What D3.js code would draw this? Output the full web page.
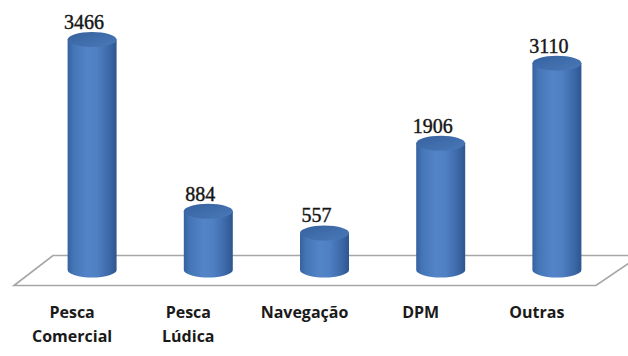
<!DOCTYPE html>
<html>
<head>
<meta charset="utf-8">
<script src="https://cdn.jsdelivr.net/npm/d3@7"></script>
<style>
  html, body { margin: 0; padding: 0; background: #ffffff; }
  svg { display: block; }
</style>
</head>
<body>
<svg id="chart" width="628" height="356"></svg>
<script>
// Occurrences by category
const categories = ["Pesca\nComercial", "Pesca\nLúdica", "Navegação", "DPM", "Outras"];
const values = [3466, 884, 557, 1906, 3110];

const W = 628, H = 356;
const svg = d3.select("#chart");

const x = d3.scalePoint().domain(categories).range([34, 615]).padding(0.5);
const y = d3.scaleLinear().domain([0, 4000]).range([270, 4]);

const rx = 24.5, ry = 7.5;

const defs = svg.append("defs");
const bodyGrad = defs.append("linearGradient").attr("id", "cylBody")
  .attr("x1", "0%").attr("x2", "100%").attr("y1", "0%").attr("y2", "0%");
[[0, "#36619e"], [0.12, "#4475b6"], [0.4, "#5484c8"], [0.6, "#4f80c4"], [0.85, "#3c68a8"], [1, "#2d568f"]]
  .forEach(([o, c]) => bodyGrad.append("stop").attr("offset", o).attr("stop-color", c));
const topGrad = defs.append("linearGradient").attr("id", "cylTop")
  .attr("x1", "0%").attr("x2", "100%").attr("y1", "0%").attr("y2", "100%");
[[0, "#36619e"], [1, "#4a79b9"]]
  .forEach(([o, c]) => topGrad.append("stop").attr("offset", o).attr("stop-color", c));

// Floor plane (3D base)
const floor = [[14, 285.5], [53, 255.5], [640, 255.5], [596, 285.5]];
svg.append("path")
  .attr("d", d3.line()(floor) + "Z")
  .attr("fill", "#ffffff")
  .attr("stroke", "#a6a6a6")
  .attr("stroke-width", 1.6);

// Cylinders
const bars = svg.append("g").selectAll("g").data(categories).join("g");
bars.append("path")
  .attr("d", (c, i) => {
    const cx = x(c), yt = y(values[i]), yb = y(0);
    return `M${cx - rx},${yt} L${cx - rx},${yb} A${rx},${ry} 0 0 0 ${cx + rx},${yb} L${cx + rx},${yt} Z`;
  })
  .attr("fill", "url(#cylBody)");
bars.append("ellipse")
  .attr("cx", c => x(c))
  .attr("cy", (c, i) => y(values[i]))
  .attr("rx", rx).attr("ry", ry)
  .attr("fill", "url(#cylTop)");

// Value labels
bars.append("text")
  .attr("x", c => x(c) - 8)
  .attr("y", (c, i) => y(values[i]) - ry - 3)
  .attr("text-anchor", "middle")
  .attr("font-family", "Liberation Serif, serif")
  .attr("font-size", 20)
  .attr("fill", "#151515")
  .attr("stroke", "#151515")
  .attr("stroke-width", 0.4)
  .text((c, i) => values[i]);

// Category labels
const labels = svg.append("g").selectAll("text").data(categories).join("text")
  .attr("x", c => x(c) - 20)
  .attr("y", 318)
  .attr("text-anchor", "middle")
  .attr("font-family", "Open Sans, sans-serif")
  .attr("font-size", 16)
  .attr("font-weight", "bold")
  .attr("fill", "#1a1a1a");
labels.selectAll("tspan").data(c => c.split("\n").map(t => [c, t])).join("tspan")
  .attr("x", d => x(d[0]) - 20)
  .attr("dy", (d, i) => i === 0 ? 0 : 24)
  .text(d => d[1]);
</script>
</body>
</html>
